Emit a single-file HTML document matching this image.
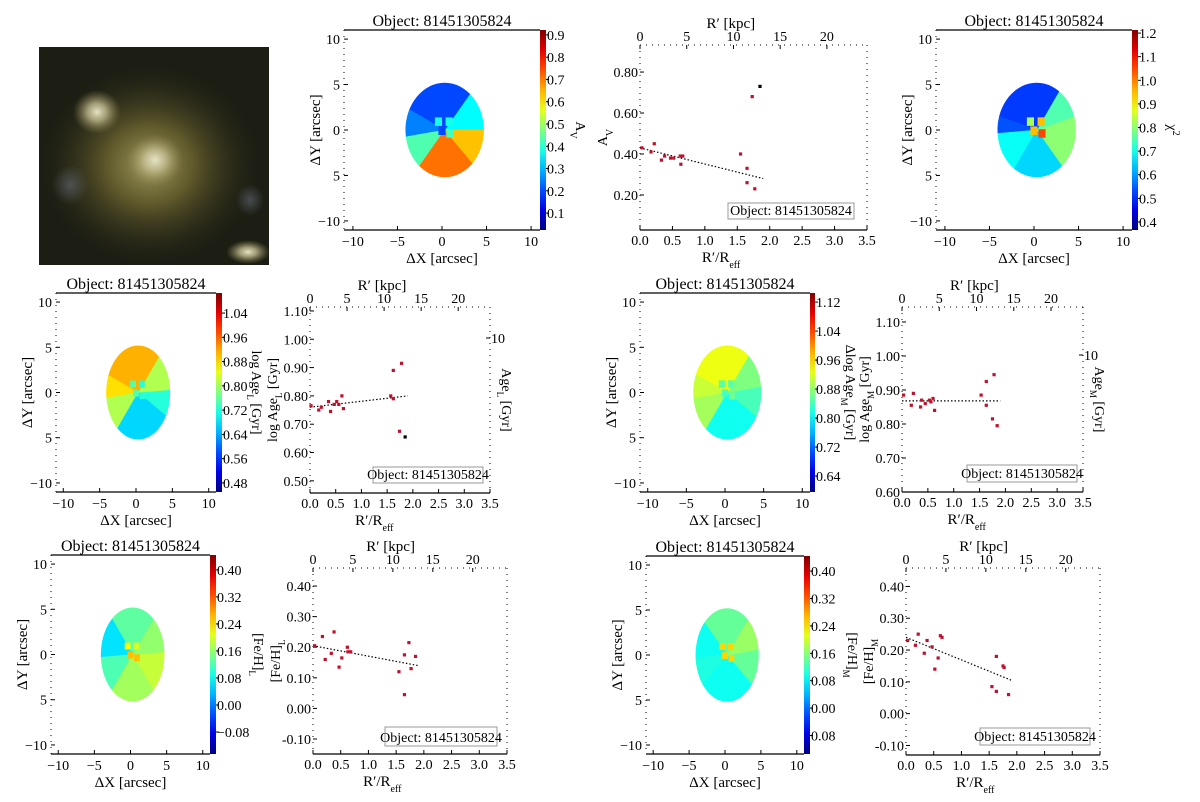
<!DOCTYPE html>
<html><head><meta charset="utf-8"><style>
html,body{margin:0;padding:0;background:#fff;width:1200px;height:802px;overflow:hidden}
svg{display:block;font-family:"Liberation Serif",serif}
</style></head><body>
<svg id="fig" width="1200" height="802" viewBox="0 0 1200 802" xmlns="http://www.w3.org/2000/svg">
<defs>
<radialGradient id="halo" cx="0.5" cy="0.5" r="0.5"><stop offset="0" stop-color="#b0a868" stop-opacity="0.9"/><stop offset="0.4" stop-color="#6e6630" stop-opacity="0.8"/><stop offset="1" stop-color="#2e2c18" stop-opacity="0"/></radialGradient>
<radialGradient id="blob" cx="0.5" cy="0.5" r="0.5"><stop offset="0" stop-color="#e6e4c6"/><stop offset="0.4" stop-color="#c8c296" stop-opacity="0.75"/><stop offset="1" stop-color="#908850" stop-opacity="0"/></radialGradient>
<radialGradient id="blue" cx="0.5" cy="0.5" r="0.5"><stop offset="0" stop-color="#707888" stop-opacity="0.5"/><stop offset="1" stop-color="#707888" stop-opacity="0"/></radialGradient>
<clipPath id="imgclip"><rect x="39" y="47" width="230" height="218"/></clipPath>
</defs>
<g id="image-panel" clip-path="url(#imgclip)">
<rect x="39" y="47" width="230" height="218" fill="#1c1e14"/>
<ellipse cx="150" cy="165" rx="110" ry="100" fill="url(#halo)"/>
<ellipse cx="70" cy="185" rx="18" ry="20" fill="url(#blue)"/>
<ellipse cx="250" cy="200" rx="14" ry="16" fill="url(#blue)"/>
<ellipse cx="97" cy="112" rx="24" ry="22" fill="url(#blob)"/>
<ellipse cx="155" cy="160" rx="28" ry="26" fill="url(#blob)"/>
<ellipse cx="248" cy="252" rx="22" ry="12" fill="url(#blob)"/>
</g>
</svg>
<script>
// ---------------- data ----------------
const mapTitle = "Object: 81451305824";
const avSectorAngles = [0, 55, 150, 190, 235, 310, 360];
const avSectorVals = [0.36, 0.20, 0.25, 0.43, 0.71, 0.64];
const avCbTicks = [0.1,0.2,0.3,0.4,0.5,0.6,0.7,0.8,0.9];
const chiSectorAngles = [-55, 20, 60, 160, 185, 240, 305];
const chiSectorVals = [0.80, 0.75, 0.52, 0.54, 0.69, 0.65];
const chiCbTicks = [0.4,0.5,0.6,0.7,0.8,0.9,1.0,1.1,1.2];
const ageLSectorAngles = [-40, 5, 60, 150, 190, 240, 320];
const ageLSectorVals = [0.72, 0.81, 0.91, 0.88, 0.81, 0.67];
const ageLCbTicks = [0.48,0.56,0.64,0.72,0.80,0.88,0.96,1.04];
const ageMSectorAngles = [-40, 10, 60, 150, 190, 240, 320];
const ageMSectorVals = [0.84, 0.87, 0.93, 0.91, 0.89, 0.81];
const ageMCbTicks = [0.64,0.72,0.80,0.88,0.96,1.04,1.12];
const feLSectorAngles = [-60, 5, 60, 120, 185, 240, 300];
const feLSectorVals = [0.19, 0.16, 0.13, 0.06, 0.12, 0.17];
const feLCbTicks = [-0.08,0.00,0.08,0.16,0.24,0.32,0.40];
const feMSectorAngles = [-50, 10, 60, 125, 185, 230, 310];
const feMSectorVals = [0.14, 0.17, 0.14, 0.09, 0.10, 0.09];
const feMCbTicks = [-0.08,0.00,0.08,0.16,0.24,0.32,0.40];
const feMCbLabels = ["0.08","0.00","0.08","0.16","0.24","0.32","0.40"];

const avR = [0.03,0.17,0.22,0.33,0.38,0.47,0.52,0.62,0.63,0.66,1.55,1.65,1.65,1.77,1.73,1.85];
const avY = [0.43,0.41,0.45,0.37,0.39,0.38,0.38,0.39,0.35,0.39,0.40,0.33,0.26,0.23,0.68,0.73];
const avFit = [0.43, 0.28];
const ageLR = [0.02,0.17,0.22,0.36,0.40,0.47,0.52,0.56,0.62,0.65,1.57,1.62,1.62,1.78,1.74,1.85];
const ageLY = [0.765,0.75,0.76,0.78,0.745,0.77,0.78,0.77,0.80,0.755,0.80,0.79,0.89,0.915,0.675,0.655];
const ageLFit = [0.76, 0.80];
const ageMR = [0.03,0.18,0.22,0.36,0.38,0.45,0.53,0.60,0.63,0.56,1.53,1.63,1.63,1.78,1.75,1.84];
const ageMY = [0.885,0.855,0.89,0.85,0.87,0.86,0.87,0.875,0.84,0.865,0.885,0.855,0.925,0.945,0.815,0.795];
const ageMFit = [0.868, 0.868];
const feLR = [0.03,0.17,0.22,0.33,0.38,0.47,0.52,0.62,0.63,0.68,1.55,1.65,1.65,1.73,1.77,1.85];
const feLY = [0.205,0.235,0.16,0.18,0.25,0.135,0.165,0.20,0.185,0.185,0.12,0.175,0.045,0.215,0.13,0.17];
const feLFit = [0.205, 0.14];
const feMR = [0.03,0.17,0.22,0.33,0.38,0.47,0.52,0.58,0.62,0.65,1.55,1.63,1.63,1.75,1.77,1.85];
const feMY = [0.23,0.215,0.25,0.19,0.23,0.21,0.14,0.175,0.245,0.24,0.085,0.18,0.07,0.15,0.145,0.06];
const feMFit = [0.24, 0.105];
const xTicks = [0,0.5,1.0,1.5,2.0,2.5,3.0,3.5];
const kpcTicks = [0,5,10,15,20];
const kpcPerReff = 6.94;

// ---------------- helpers ----------------
const NS = "http://www.w3.org/2000/svg";
const svg = document.getElementById('fig');
function mk(tag, attrs, parent, text){
  const e = document.createElementNS(NS, tag);
  for (const k in attrs) e.setAttribute(k, attrs[k]);
  if (text !== undefined) e.textContent = text;
  (parent || svg).appendChild(e);
  return e;
}
function clamp(v){return Math.max(0, Math.min(1, v));}
function jet(t){
  const r = clamp(1.5 - Math.abs(4*t - 3)), g = clamp(1.5 - Math.abs(4*t - 2)), b = clamp(1.5 - Math.abs(4*t - 1));
  return `rgb(${Math.round(r*255)},${Math.round(g*255)},${Math.round(b*255)})`;
}

let gradId = 0;
function drawMap(cfg){
  const g = mk('g', {}, svg);
  
  
  const [ax0, ax1, ay0, ay1] = cfg.ax;
  const sx = v => ax0 + (v + 11) / 22 * (ax1 - ax0);
  const sy = v => ay0 + (11 - v) / 22 * (ay1 - ay0);
  const [lo, hi] = cfg.range;
  const col = v => jet((v - lo) / (hi - lo));
  const cid = 'clip' + (gradId++);
  const cp = mk('clipPath', {id: cid}, g);
  const ecx = sx(0.3), ecy = sy(0), erx = 4.4 * (ax1-ax0)/22, ery = 5.2 * (ay1-ay0)/22;
  mk('ellipse', {cx: ecx, cy: ecy, rx: erx, ry: ery}, cp);
  const sg = mk('g', {'clip-path': `url(#${cid})`}, g);
  const R = Math.max(erx, ery) * 1.3;
  for (let i = 0; i < cfg.vals.length; i++){
    const a0 = cfg.angles[i] * Math.PI/180, a1 = cfg.angles[i+1] * Math.PI/180;
    const p = mk('path', {d: `M${ecx},${ecy} L${ecx+R*Math.cos(a0)},${ecy-R*Math.sin(a0)} A${R},${R} 0 0 0 ${ecx+R*Math.cos(a1)},${ecy-R*Math.sin(a1)} Z`, fill: col(cfg.vals[i]), stroke: col(cfg.vals[i]), 'stroke-width': 0.5}, sg);
    
    
  }
  const bw = (ax1-ax0)/22*0.8;
  [[-0.4,1.0],[0.8,1.0],[0,0],[0.9,-0.3]].forEach((b, i) => {
    const c = mk('rect', {x: sx(b[0]) - bw/2, y: sy(b[1]) - bw/2, width: bw, height: bw*1.2, fill: col(cfg.blobVal[i])}, g);
    
    
  });
  mk('line', {x1: ax0, y1: ay0, x2: ax1, y2: ay0, stroke: '#000', 'stroke-width': 1.2}, g);
  mk('line', {x1: ax0, y1: ay1, x2: ax1, y2: ay1, stroke: '#000', 'stroke-width': 1.2}, g);
  mk('line', {x1: ax0, y1: ay0, x2: ax0, y2: ay1, stroke: '#000', 'stroke-width': 1, 'stroke-dasharray': '1 5'}, g);
  [-10,-5,0,5,10].forEach(v => {
    mk('line', {x1: ax0, y1: sy(v), x2: ax0+4, y2: sy(v), stroke: '#000'}, g);
    mk('line', {x1: sx(v), y1: ay1, x2: sx(v), y2: ay1-4, stroke: '#000'}, g);
    const t = mk('text', {x: sx(v), y: ay1 + 16, 'font-size': 14, 'text-anchor': 'middle'}, g, v < 0 ? '\u2212' + (-v) : String(v));
    
    
    const t2 = mk('text', {x: ax0 - 4, y: sy(v) + 5, 'font-size': 14, 'text-anchor': 'end'}, g, v === -10 ? '\u221210' : String(Math.abs(v)));
    
    
  });
  const xt = mk('text', {x: (ax0+ax1)/2, y: ay1 + 33, 'font-size': 15, 'text-anchor': 'middle'}, g, '\u0394X [arcsec]');
  
  
  const yt = mk('text', {x: 0, y: 0, 'font-size': 15, 'text-anchor': 'middle', transform: `translate(${ax0-24},${(ay0+ay1)/2}) rotate(-90)`}, g, '\u0394Y [arcsec]');
  
  
  const tt = mk('text', {x: (ax0+ax1)/2, y: ay0 - 4, 'font-size': 16, 'text-anchor': 'middle'}, g, mapTitle);
  
  
  const [cb0, cb1] = cfg.cb;
  const gid = 'cbg' + (gradId++);
  const lg = mk('linearGradient', {id: gid, x1: 0, y1: 1, x2: 0, y2: 0}, g);
  for (let i = 0; i <= 10; i++) mk('stop', {offset: i/10, 'stop-color': jet(i/10)}, lg);
  const cbr = mk('rect', {x: cb0, y: ay0, width: cb1-cb0, height: ay1-ay0, fill: `url(#${gid})`}, g);
  
  
  const cy = v => ay1 - (v - lo) / (hi - lo) * (ay1 - ay0);
  cfg.cbTicks.forEach((v, i) => {
    mk('line', {x1: cb1, y1: cy(v), x2: cb1 + 3, y2: cy(v), stroke: '#000'}, g);
    const lab = cfg.cbLabels ? cfg.cbLabels[i] : v.toFixed(cfg.dec).replace('-', '\u2212');
    const t = mk('text', {x: cb1 + 1, y: cy(v) + 5, 'font-size': 14}, g, lab);
    
    
  });
  const ct = mk('text', {x: 0, y: 0, 'font-size': 14, 'text-anchor': 'middle', transform: `translate(${cb1 + cfg.cbTitleDx},${(ay0+ay1)/2}) rotate(90)`}, g);
  
  
  ct.innerHTML = cfg.cbTitle;
}

drawMap({name:'map-av', ax:[344,540,30,230], cb:[540,546], range:[0.024,0.922], angles:avSectorAngles, vals:avSectorVals, cbTicks:avCbTicks, dec:1, blobVal:[0.38,0.38,0.2,0.42], cbTitle:'A<tspan baseline-shift="sub" font-size="10">V</tspan>', cbTitleDx:30});
drawMap({name:'map-chi2', ax:[936,1132,30,230], cb:[1132,1138], range:[0.366,1.213], angles:chiSectorAngles, vals:chiSectorVals, cbTicks:chiCbTicks, dec:1, blobVal:[0.82,0.95,0.95,1.05], cbTitle:'\u03C7<tspan baseline-shift="super" font-size="10">2</tspan>', cbTitleDx:30});
drawMap({name:'map-age-l', ax:[56,216,293,492], cb:[216,222], range:[0.45,1.106], angles:ageLSectorAngles, vals:ageLSectorVals, cbTicks:ageLCbTicks, dec:2, blobVal:[0.75,0.72,0.75,0.72], cbTitle:'log Age<tspan baseline-shift="sub" font-size="9">L</tspan> [Gyr]', cbTitleDx:30});
drawMap({name:'map-age-m', ax:[640,810,293,492], cb:[810,815], range:[0.596,1.145], angles:ageMSectorAngles, vals:ageMSectorVals, cbTicks:ageMCbTicks, dec:2, blobVal:[0.85,0.85,0.84,0.86], cbTitle:'\u0394log Age<tspan baseline-shift="sub" font-size="9">M</tspan> [Gyr]', cbTitleDx:31});
drawMap({name:'map-feh-l', ax:[51,210,555,754], cb:[210,216], range:[-0.145,0.444], angles:feLSectorAngles, vals:feLSectorVals, cbTicks:feLCbTicks, dec:2, blobVal:[0.22,0.20,0.26,0.26], cbTitle:'[Fe/H]<tspan baseline-shift="sub" font-size="9">L</tspan>', cbTitleDx:38});
drawMap({name:'map-feh-m', ax:[646,804,556,754], cb:[804,810], range:[-0.134,0.444], angles:feMSectorAngles, vals:feMSectorVals, cbTicks:feMCbTicks, cbLabels:feMCbLabels, dec:2, blobVal:[0.25,0.25,0.25,0.25], cbTitle:'[Fe/H]<tspan baseline-shift="sub" font-size="9">M</tspan>', cbTitleDx:38});

function drawScatter(cfg){
  const g = mk('g', {}, svg);
  
  
  const [x0, x1, y0, y1] = cfg.frame;
  const [lo, hi] = cfg.yDomain;
  const sx = v => x0 + v / 3.5 * (x1 - x0);
  const sy = v => y1 - (v - lo) / (hi - lo) * (y1 - y0);
  mk('line', {x1: x0, y1: y1, x2: x1, y2: y1, stroke: '#000', 'stroke-width': 1.2}, g);
  mk('line', {x1: x0, y1: y0, x2: x1, y2: y0, stroke: '#000', 'stroke-width': 1, 'stroke-dasharray': '1 5'}, g);
  mk('line', {x1: x0, y1: y0, x2: x0, y2: y1, stroke: '#000', 'stroke-width': 1, 'stroke-dasharray': '1 5'}, g);
  mk('line', {x1: x1, y1: y0, x2: x1, y2: y1, stroke: '#000', 'stroke-width': 1, 'stroke-dasharray': '1 5'}, g);
  xTicks.forEach(v => {
    mk('line', {x1: sx(v), y1: y1, x2: sx(v), y2: y1-4, stroke: '#000'}, g);
    const t = mk('text', {x: sx(v), y: y1 + 15, 'font-size': 14, 'text-anchor': 'middle'}, g, v.toFixed(1));
    
    
  });
  kpcTicks.forEach(v => {
    const px = sx(v / kpcPerReff);
    mk('line', {x1: px, y1: y0, x2: px, y2: y0+4, stroke: '#000'}, g);
    const t = mk('text', {x: px, y: y0 - 4, 'font-size': 14, 'text-anchor': 'middle'}, g, String(v));
    
    
  });
  const tt = mk('text', {x: sx(1.4), y: y0 - 17, 'font-size': 15, 'text-anchor': 'middle'}, g, 'R\u2032 [kpc]');
  
  
  cfg.yTicks.forEach(v => {
    mk('line', {x1: x0, y1: sy(v), x2: x0+4, y2: sy(v), stroke: '#000'}, g);
    const t = mk('text', {x: x0 - 2, y: sy(v) + 5, 'font-size': 14, 'text-anchor': 'end'}, g, v.toFixed(2));
    
    
  });
  const xt = mk('text', {x: sx(1.25), y: y1 + 32, 'font-size': 15, 'text-anchor': 'middle'}, g);
  xt.innerHTML = 'R\u2032/R<tspan baseline-shift="sub" font-size="10">eff</tspan>';
  
  
  const yt = mk('text', {x: 0, y: 0, 'font-size': 14, 'text-anchor': 'middle', transform: `translate(${x0-33},${(y0+y1)/2}) rotate(-90)`}, g);
  yt.innerHTML = cfg.yTitle;
  
  
  if (cfg.rightTitle){
    const ry = cfg.rightTickY;
    mk('line', {x1: x1, y1: ry, x2: x1-4, y2: ry, stroke: '#000'}, g);
    const rt = mk('text', {x: x1 + 1, y: ry + 5, 'font-size': 14}, g, '10');
    
    
    const rtt = mk('text', {x: 0, y: 0, 'font-size': 14, 'text-anchor': 'middle', transform: `translate(${x1+12},${(y0+y1)/2}) rotate(90)`}, g);
    rtt.innerHTML = cfg.rightTitle;
    
    
  }
  const fl = mk('line', {x1: sx(0), y1: sy(cfg.fit[0]), x2: sx(1.9), y2: sy(cfg.fit[1]), stroke: '#000', 'stroke-width': 1.2, 'stroke-dasharray': '1.5 2'}, g);
  
  
  cfg.xs.forEach((xv, i) => {
    const black = cfg.blackLast && i === cfg.xs.length - 1;
    const p = mk('rect', {x: sx(xv) - 1.6, y: sy(cfg.ys[i]) - 1.6, width: 3.2, height: 3.2, fill: black ? '#000' : '#c0102e'}, g);
    
    
  });
  const [lx0, lx1, ly0, ly1] = cfg.legend;
  const lb = mk('rect', {x: lx0, y: ly0, width: lx1-lx0, height: ly1-ly0, fill: '#fff', stroke: '#999', 'stroke-width': 1}, g);
  
  
  const lt = mk('text', {x: (lx0+lx1)/2, y: ly1 - 4, 'font-size': 14, 'text-anchor': 'middle'}, g, mapTitle);
  
  
}

drawScatter({name:'scatter-av', frame:[640,867,45,230], yDomain:[0.029,0.932], yTicks:[0.2,0.4,0.6,0.8], xs:avR, ys:avY, fit:avFit, blackLast:true, legend:[728,854,203,219], yTitle:'A<tspan baseline-shift="sub" font-size="10">V</tspan>'});
drawScatter({name:'scatter-age-l', frame:[310,490,307,493], yDomain:[0.457,1.114], yTicks:[0.5,0.6,0.7,0.8,0.9,1.0,1.1], xs:ageLR, ys:ageLY, fit:ageLFit, blackLast:true, legend:[373,483,467,483], yTitle:'log Age<tspan baseline-shift="sub" font-size="9">L</tspan> [Gyr]', rightTitle:'Age<tspan baseline-shift="sub" font-size="9">L</tspan> [Gyr]', rightTickY:338});
drawScatter({name:'scatter-age-m', frame:[902,1083,307,492], yDomain:[0.600,1.144], yTicks:[0.6,0.7,0.8,0.9,1.0,1.1], xs:ageMR, ys:ageMY, fit:ageMFit, blackLast:false, legend:[967,1077,465,482], yTitle:'log Age<tspan baseline-shift="sub" font-size="9">M</tspan> [Gyr]', rightTitle:'Age<tspan baseline-shift="sub" font-size="9">M</tspan> [Gyr]', rightTickY:355});
drawScatter({name:'scatter-feh-l', frame:[313,507,568,754], yDomain:[-0.149,0.459], yTicks:[-0.1,0,0.1,0.2,0.3,0.4], xs:feLR, ys:feLY, fit:feLFit, blackLast:false, legend:[385,497,727,746], yTitle:'[Fe/H]<tspan baseline-shift="sub" font-size="9">L</tspan>'});
drawScatter({name:'scatter-feh-m', frame:[906,1100,568,755], yDomain:[-0.130,0.458], yTicks:[-0.1,0,0.1,0.2,0.3,0.4], xs:feMR, ys:feMY, fit:feMFit, blackLast:false, legend:[980,1090,728,745], yTitle:'[Fe/H]<tspan baseline-shift="sub" font-size="9">M</tspan>'});
</script>
</body></html>
